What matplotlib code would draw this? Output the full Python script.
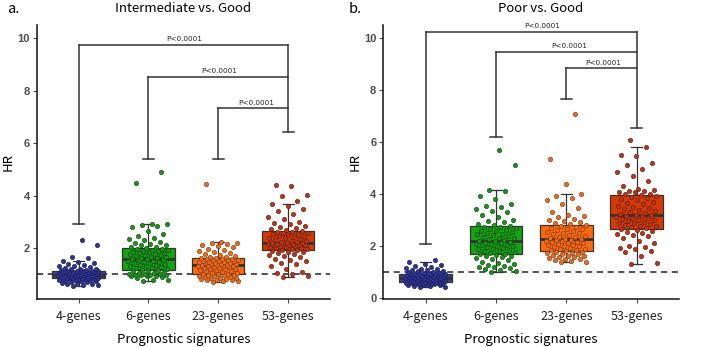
import numpy as np
import matplotlib
matplotlib.use("Agg")
import matplotlib.pyplot as plt

categories = ["4-genes", "6-genes", "23-genes", "53-genes"]

# Panel a: Intermediate vs. Good
a_4 = [0.55, 0.58, 0.6, 0.62, 0.65, 0.66, 0.68, 0.7, 0.71, 0.73, 0.74, 0.76, 0.77, 0.78, 0.79, 0.8, 0.81, 0.82, 0.83, 0.84,
       0.85, 0.86, 0.87, 0.88, 0.88, 0.89, 0.9, 0.91, 0.92, 0.92, 0.93, 0.94, 0.95, 0.95, 0.96, 0.97, 0.97, 0.98, 0.99, 0.99,
       1.0, 1.01, 1.01, 1.02, 1.03, 1.04, 1.04, 1.05, 1.06, 1.06, 1.07, 1.08, 1.08, 1.09, 1.1, 1.1, 1.11, 1.12, 1.12, 1.13,
       1.14, 1.15, 1.17, 1.19, 1.2, 1.22, 1.25, 1.27, 1.3, 1.33, 1.36, 1.4, 1.43, 1.47, 1.51, 1.62, 1.65, 2.13, 2.3]
a_6 = [0.75, 0.78, 0.8, 0.85, 0.9, 0.92, 0.94, 0.95, 0.96, 0.97, 0.98, 0.99, 1.0, 1.01, 1.03, 1.05, 1.07, 1.09, 1.11, 1.13,
       1.15, 1.18, 1.2, 1.23, 1.25, 1.28, 1.3, 1.33, 1.35, 1.37, 1.4, 1.42, 1.44, 1.46, 1.48, 1.5, 1.52, 1.54, 1.56, 1.57,
       1.59, 1.61, 1.63, 1.65, 1.67, 1.7, 1.72, 1.74, 1.76, 1.78, 1.8, 1.82, 1.84, 1.86, 1.88, 1.9, 1.92, 1.94, 1.96, 1.98,
       2.0, 2.03, 2.06, 2.1, 2.13, 2.17, 2.2, 2.25, 2.3, 2.34, 2.38, 2.45, 2.55, 2.65, 2.8, 2.84, 2.87, 2.9, 2.92, 4.47, 4.91]
a_23 = [0.71, 0.73, 0.75, 0.77, 0.79, 0.8, 0.82, 0.84, 0.85, 0.87, 0.88, 0.9, 0.91, 0.93, 0.94, 0.96, 0.97, 0.99, 1.0, 1.01,
        1.03, 1.05, 1.07, 1.09, 1.11, 1.13, 1.15, 1.17, 1.19, 1.2, 1.22, 1.24, 1.25, 1.27, 1.28, 1.3, 1.31, 1.32, 1.33, 1.34,
        1.36, 1.37, 1.38, 1.39, 1.41, 1.42, 1.43, 1.44, 1.46, 1.47, 1.48, 1.5, 1.51, 1.52, 1.54, 1.55, 1.56, 1.57, 1.58, 1.6,
        1.62, 1.64, 1.66, 1.68, 1.7, 1.73, 1.76, 1.8, 1.84, 1.88, 1.93, 1.98, 2.03, 2.08, 2.12, 2.15, 2.18, 2.21, 2.24, 4.46]
a_53 = [0.9, 0.95, 1.0, 1.05, 1.1, 1.2, 1.3, 1.4, 1.45, 1.5, 1.55, 1.6, 1.65, 1.7, 1.74, 1.78, 1.81, 1.84, 1.87, 1.9,
        1.92, 1.94, 1.96, 1.98, 2.0, 2.02, 2.04, 2.05, 2.07, 2.08, 2.1, 2.11, 2.12, 2.13, 2.14, 2.15, 2.16, 2.17, 2.18, 2.19,
        2.21, 2.23, 2.25, 2.27, 2.29, 2.32, 2.35, 2.38, 2.4, 2.43, 2.45, 2.48, 2.5, 2.52, 2.54, 2.56, 2.58, 2.6, 2.62, 2.65,
        2.68, 2.72, 2.76, 2.8, 2.85, 2.9, 2.95, 3.0, 3.1, 3.2, 3.3, 3.4, 3.5, 3.6, 3.69, 3.8, 4.0, 4.04, 4.35, 4.39]

# Panel b: Poor vs. Good
b_4 = [0.41, 0.43, 0.45, 0.47, 0.49, 0.5, 0.51, 0.52, 0.53, 0.54, 0.55, 0.56, 0.57, 0.58, 0.58, 0.59, 0.6, 0.6, 0.61, 0.62,
       0.63, 0.64, 0.65, 0.66, 0.67, 0.68, 0.69, 0.7, 0.71, 0.71, 0.72, 0.73, 0.74, 0.74, 0.75, 0.76, 0.76, 0.77, 0.77, 0.78,
       0.79, 0.8, 0.81, 0.82, 0.83, 0.84, 0.85, 0.86, 0.87, 0.88, 0.89, 0.9, 0.9, 0.91, 0.92, 0.92, 0.93, 0.94, 0.94, 0.95,
       0.96, 0.98, 1.0, 1.02, 1.04, 1.06, 1.08, 1.1, 1.12, 1.15, 1.18, 1.22, 1.27, 1.32, 1.38, 1.47]
b_6 = [0.98, 1.02, 1.08, 1.12, 1.15, 1.18, 1.2, 1.22, 1.25, 1.3, 1.35, 1.4, 1.45, 1.5, 1.54, 1.57, 1.6, 1.63, 1.66, 1.68,
       1.7, 1.73, 1.76, 1.79, 1.82, 1.85, 1.88, 1.9, 1.93, 1.95, 1.98, 2.0, 2.03, 2.05, 2.07, 2.09, 2.11, 2.13, 2.15, 2.17,
       2.2, 2.23, 2.26, 2.29, 2.32, 2.35, 2.38, 2.41, 2.44, 2.47, 2.5, 2.53, 2.56, 2.59, 2.62, 2.65, 2.68, 2.71, 2.74, 2.77,
       2.8, 2.85, 2.9, 2.95, 3.0, 3.1, 3.2, 3.3, 3.35, 3.4, 3.5, 3.55, 3.6, 3.8, 3.9, 4.1, 4.16, 5.12, 5.68]
b_23 = [1.38, 1.4, 1.42, 1.45, 1.48, 1.5, 1.53, 1.56, 1.58, 1.6, 1.62, 1.65, 1.67, 1.7, 1.72, 1.74, 1.76, 1.78, 1.8, 1.83,
        1.85, 1.88, 1.9, 1.93, 1.95, 1.98, 2.0, 2.03, 2.05, 2.08, 2.1, 2.12, 2.14, 2.16, 2.18, 2.2, 2.22, 2.24, 2.26, 2.28,
        2.3, 2.33, 2.36, 2.39, 2.42, 2.45, 2.48, 2.51, 2.54, 2.57, 2.6, 2.63, 2.66, 2.69, 2.72, 2.75, 2.8, 2.84, 2.88, 2.92,
        2.95, 3.0, 3.05, 3.1, 3.15, 3.2, 3.3, 3.45, 3.6, 3.75, 3.85, 3.9, 4.0, 4.39, 5.34, 7.05]
b_53 = [1.31, 1.33, 1.6, 1.75, 1.8, 1.88, 1.92, 1.95, 2.0, 2.1, 2.2, 2.3, 2.38, 2.42, 2.45, 2.5, 2.55, 2.58, 2.62, 2.66,
        2.68, 2.72, 2.75, 2.78, 2.8, 2.83, 2.86, 2.89, 2.92, 2.95, 2.98, 3.0, 3.03, 3.06, 3.09, 3.12, 3.14, 3.16, 3.18, 3.2,
        3.23, 3.26, 3.3, 3.34, 3.38, 3.42, 3.46, 3.5, 3.55, 3.6, 3.65, 3.7, 3.75, 3.8, 3.85, 3.88, 3.92, 3.95, 3.98, 4.01,
        4.05, 4.08, 4.1, 4.12, 4.15, 4.2, 4.3, 4.5, 4.7, 4.85, 4.95, 5.1, 5.2, 5.45, 5.5, 5.8, 6.07]

# significance brackets: (left group, right group, height, label)
a_brackets = [(0, 3, 9.74, "P<0.0001"), (1, 3, 8.53, "P<0.0001"), (2, 3, 7.32, "P<0.0001")]
a_leg_bottoms = [2.92, 5.40, 5.40, 6.41]
b_brackets = [(0, 3, 10.23, "P<0.0001"), (1, 3, 9.44, "P<0.0001"), (2, 3, 8.82, "P<0.0001")]
b_leg_bottoms = [2.07, 6.17, 7.63, 6.53]
b_label_x = [1.65, 2.04, 2.52]
a_label_x = [1.51, 2.01, 2.54]

box_colors = ["#3A3E8C", "#13A313", "#FF6A08", "#D43A02"]
pt_colors = ["#2E3290", "#1C8F1C", "#EE6A1A", "#B8351A"]
pt_edges = ["#1A1D55", "#0C4A0C", "#7A3510", "#5E1A0A"]

W, H = 708, 347
fig = plt.figure(figsize=(W / 100, H / 100), dpi=100)

def px_axes(l, r, t, b):
    return fig.add_axes([l / W, 1 - b / H, (r - l) / W, (b - t) / H])

def panel(ax, data, brackets, legs, label_x, ylim, yticks):
    pos = np.arange(len(categories))
    bp = ax.boxplot(data, positions=pos, widths=0.75, patch_artist=True, showfliers=False,
                    whis=1.5, capwidths=0.16,
                    medianprops=dict(color="#333333", linewidth=2.0),
                    boxprops=dict(edgecolor="#333333", linewidth=0.9),
                    whiskerprops=dict(color="#333333", linewidth=0.9),
                    capprops=dict(color="#333333", linewidth=0.9))
    for patch, c in zip(bp["boxes"], box_colors):
        patch.set_facecolor(c)
        patch.set_zorder(2)
    for i, vals in enumerate(data):
        n = len(vals)
        off = ((np.arange(n) * 0.6180339 + 0.37) % 1.0 - 0.5) * 0.58
        ax.scatter(pos[i] + off, vals, s=10, color=pt_colors[i], edgecolor=pt_edges[i],
                   linewidth=0.4, zorder=3)
    ax.axhline(1, color="#222222", linestyle=(0, (4, 3)), linewidth=1.1, zorder=1)
    # bracket legs
    tops = {}
    for l, r, h, _ in brackets:
        tops[l] = max(tops.get(l, 0), h)
        tops[r] = max(tops.get(r, 0), h)
    for g in range(len(categories)):
        ax.plot([g, g], [legs[g], tops[g]], color="#333333", linewidth=1.1, zorder=2)
        ax.plot([g - 0.08, g + 0.08], [legs[g], legs[g]], color="#333333", linewidth=1.1, zorder=2)
    for (l, r, h, lab), lx in zip(brackets, label_x):
        ax.plot([l, r], [h, h], color="#333333", linewidth=1.1, zorder=2)
        ax.text(lx, h + 0.1, lab, ha="center", va="bottom", fontsize=5.2,
                family="DejaVu Sans", color="#222222")
    ax.set_xlim(-0.6, 3.6)
    ax.set_ylim(*ylim)
    ax.set_yticks(yticks)
    ax.set_yticklabels([str(t) for t in yticks], fontsize=8, fontweight="bold",
                       color="#4D4D4D", family="Liberation Sans")
    ax.set_xticks(pos)
    ax.set_xticklabels(categories, fontsize=9, family="Noto Sans CJK SC", color="#222222")
    for s in ["top", "right"]:
        ax.spines[s].set_visible(False)
    for s in ["left", "bottom"]:
        ax.spines[s].set_color("#111111")
        ax.spines[s].set_linewidth(1.1)
    ax.tick_params(axis="both", length=3, width=0.8, color="#4D4D4D", pad=2)
    ax.tick_params(axis="x", pad=5)
    ax.set_xlabel("Prognostic signatures", fontsize=9.5, family="Noto Sans CJK SC", labelpad=7)
    ax.set_ylabel("HR", fontsize=9.5, family="Noto Sans CJK SC", labelpad=2)

ax1 = px_axes(36.7, 330, 25, 299.3)
panel(ax1, [a_4, a_6, a_23, a_53], a_brackets, a_leg_bottoms, a_label_x, (0.05, 10.5), [2, 4, 6, 8, 10])
ax2 = px_axes(383.3, 679, 25, 299.3)
panel(ax2, [b_4, b_6, b_23, b_53], b_brackets, b_leg_bottoms, b_label_x, (-0.05, 10.48), [0, 2, 4, 6, 8, 10])

fig.text(183 / W, 1 - 8 / H, "Intermediate vs. Good", ha="center", va="center", fontsize=9.5,
         family="Noto Sans CJK SC")
fig.text(541 / W, 1 - 8 / H, "Poor vs. Good", ha="center", va="center", fontsize=9.5,
         family="Noto Sans CJK SC")
fig.text(7 / W, 1 - 9 / H, "a.", ha="left", va="center", fontsize=10.5, family="Noto Sans CJK SC")
fig.text(349 / W, 1 - 9 / H, "b.", ha="left", va="center", fontsize=10.5, family="Noto Sans CJK SC")

fig.savefig("out.png", dpi=100)
